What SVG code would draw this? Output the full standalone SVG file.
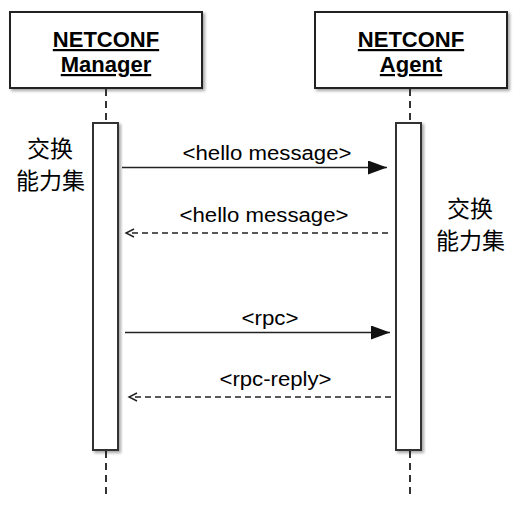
<svg xmlns="http://www.w3.org/2000/svg" width="528" height="518" viewBox="0 0 528 518">
<style>
.box{fill:#fff;stroke:#222;stroke-width:2;filter:url(#sh)}
.title{font-family:"Liberation Sans",Arial,sans-serif;font-weight:bold;font-size:22px;text-anchor:middle;text-decoration:underline;fill:#000}
.msg{font-family:"Liberation Sans",Arial,sans-serif;font-size:20px;text-anchor:middle;fill:#000}
.cjk{font-family:"Liberation Sans","Noto Sans CJK SC",sans-serif;font-size:23px;text-anchor:middle;fill:#000}
.life{stroke:#333;stroke-width:2;stroke-dasharray:7 5;fill:none}
.act{fill:#fff;stroke:#333;stroke-width:2;filter:url(#sh)}
.solid{stroke:#222;stroke-width:1.6;fill:none;marker-end:url(#tri)}
.dash{stroke:#222;stroke-width:1.4;stroke-dasharray:6 4;fill:none;marker-end:url(#open)}
</style>
<defs>
<filter id="sh" x="-20%" y="-20%" width="140%" height="140%">
<feDropShadow dx="2" dy="2" stdDeviation="1.5" flood-color="#000" flood-opacity="0.35"/>
</filter>
<marker id="tri" markerUnits="userSpaceOnUse" markerWidth="20" markerHeight="14" refX="19" refY="7" orient="auto">
<path d="M0,0 L19,7 L0,14 z" fill="#111"/>
</marker>
<marker id="open" markerUnits="userSpaceOnUse" markerWidth="11" markerHeight="11" refX="9" refY="5" orient="auto">
<path d="M1,1 L9,5 L1,9" fill="none" stroke="#222" stroke-width="1.4"/>
</marker>
</defs>
<g id="manager">
<rect class="box" x="10" y="12" width="192" height="76"/>
<text class="title" x="106" y="47">NETCONF</text>
<text class="title" x="106" y="72">Manager</text>
<line class="life" x1="106" y1="89" x2="106" y2="123"/>
<line class="life" x1="106" y1="451" x2="106" y2="499"/>
<rect class="act" x="93" y="123" width="25" height="327"/>
</g>
<g id="agent">
<rect class="box" x="315" y="12" width="192" height="76"/>
<text class="title" x="411" y="47">NETCONF</text>
<text class="title" x="411" y="72">Agent</text>
<line class="life" x1="410" y1="89" x2="410" y2="123"/>
<line class="life" x1="410" y1="451" x2="410" y2="499"/>
<rect class="act" x="396" y="123" width="25" height="327"/>
</g>
<g id="label-manager">
<text class="cjk" x="50" y="157">交换</text>
<text class="cjk" x="50.5" y="189">能力集</text>
</g>
<g id="label-agent">
<text class="cjk" x="470" y="217">交换</text>
<text class="cjk" x="470.5" y="249">能力集</text>
</g>
<g id="connectors">
<line class="solid" x1="122" y1="167.5" x2="387" y2="167.5"/>
<text class="msg" x="267" y="160" textLength="169" lengthAdjust="spacingAndGlyphs">&lt;hello message&gt;</text>
<line class="dash" x1="388" y1="233" x2="126" y2="233"/>
<text class="msg" x="264" y="222" textLength="169" lengthAdjust="spacingAndGlyphs">&lt;hello message&gt;</text>
<line class="solid" x1="125" y1="332.5" x2="390" y2="332.5"/>
<text class="msg" x="270" y="325" textLength="57" lengthAdjust="spacingAndGlyphs">&lt;rpc&gt;</text>
<line class="dash" x1="391" y1="397" x2="129" y2="397"/>
<text class="msg" x="275.5" y="386" textLength="112" lengthAdjust="spacingAndGlyphs">&lt;rpc-reply&gt;</text>
</g>
</svg>
